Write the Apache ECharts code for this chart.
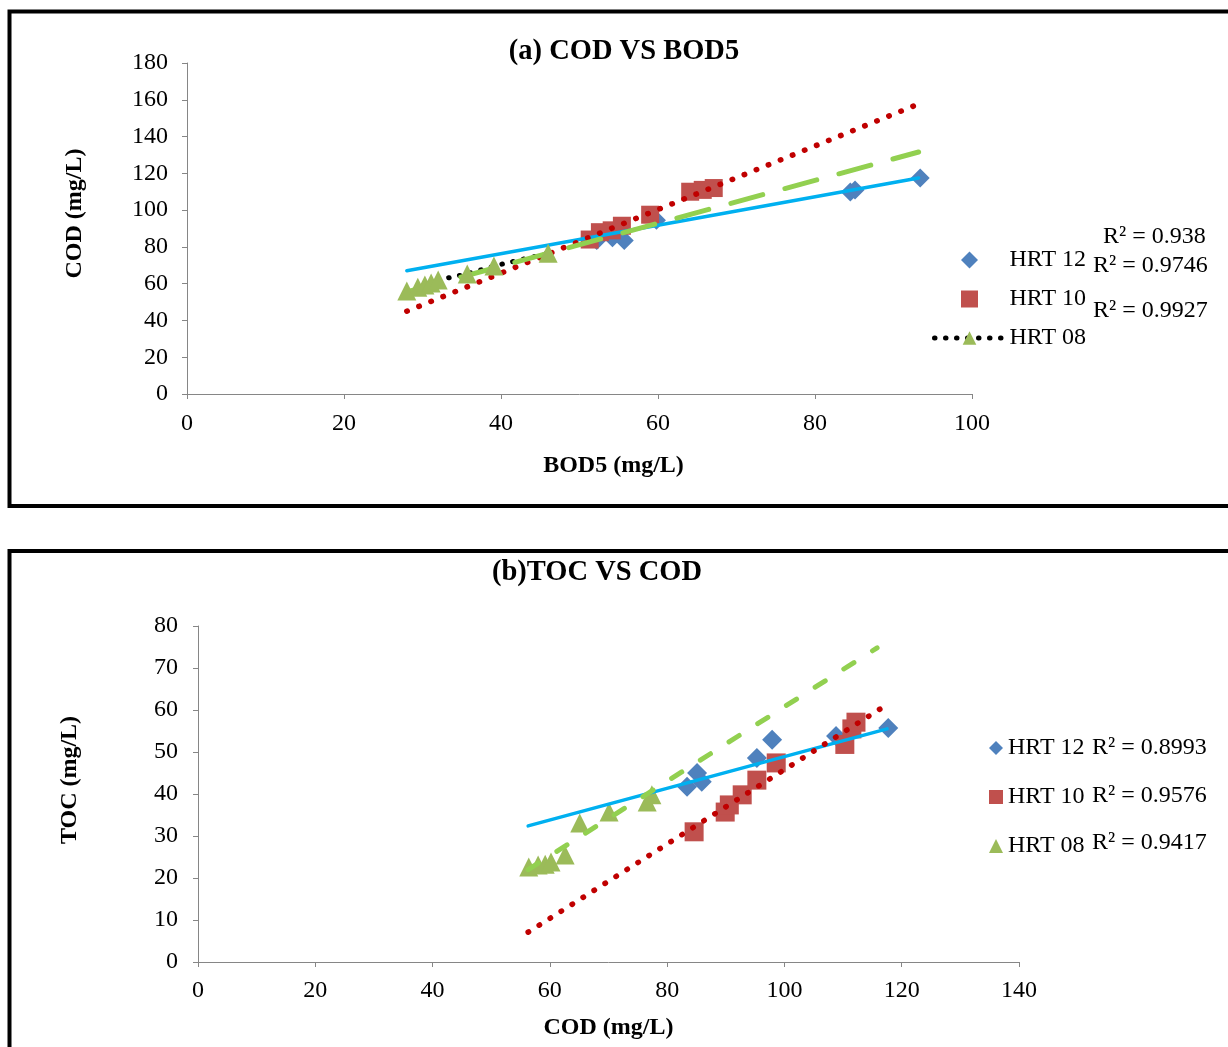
<!DOCTYPE html>
<html>
<head>
<meta charset="utf-8">
<title>COD VS BOD5 / TOC VS COD</title>
<script src="https://cdn.jsdelivr.net/npm/echarts@6/dist/echarts.min.js"></script>
<style>
html, body { margin: 0; padding: 0; background: #fff; }
#chart { width: 1228px; height: 1047px; }
</style>
</head>
<body>
<div id="chart"></div>
<script>
// (a) COD vs BOD5 : [BOD5, COD]
const hrt12A = [[52.2, 83.5], [54.2, 85], [55.7, 83.5], [59.8, 94.5], [84.5, 109.8], [85.1, 110.9], [93.4, 117.5]];
const hrt10A = [[51.3, 84], [52.6, 88], [54.1, 89], [55.4, 91.5], [59, 97.5], [64.1, 110], [65.7, 111], [67.1, 112]];
const hrt08A = [[28, 56], [29.4, 58], [30.3, 59.3], [31.1, 60.4], [32, 62], [35.7, 65.3], [39.1, 69.6], [46, 76.5]];
// trendline ends as drawn
const trend12A = [[28, 67], [93.2, 117.5]];
const trend10A = [[28, 45], [93.2, 157.7]];
const trend08A = [[28, 55.5], [93.2, 131.6]];
const r2A = ['R² = 0.938', 'R² = 0.9746', 'R² = 0.9927'];

// (b) TOC vs COD : [COD, TOC]
const hrt12B = [[83.4, 41.7], [85.1, 45], [85.9, 42.9], [95.3, 48.6], [97.9, 52.9], [108.8, 53.8], [117.7, 55.7]];
const hrt10B = [[84.6, 31], [89.9, 35.7], [90.6, 37.4], [92.8, 39.8], [95.3, 43.3], [98.6, 47.4], [110.3, 51.8], [111.5, 55.5], [112.2, 57.1]];
const hrt08B = [[56.4, 22.6], [58, 23.1], [59.2, 23.3], [60.2, 23.8], [62.6, 25.5], [65.1, 33.1], [70.1, 35.7], [76.6, 38.1], [77.4, 39.8]];
const trend12B = [[56.3, 32.4], [117.5, 55.5]];
const trend10B = [[56.3, 7.1], [116.6, 60.5]];
const trend08B = [[56.3, 22], [115.8, 74.8]];
const r2B = ['R² = 0.8993', 'R² = 0.9576', 'R² = 0.9417'];

const names = ['HRT 12', 'HRT 10', 'HRT 08'];

const serif = '"Liberation Serif", "Times New Roman", serif';
const blue = '#4F81BD', red = '#C0504D', green = '#9BBB59';
const diamondIcon = 'path://M0,-10L10,0L0,10L-10,0Z';
const squareIcon = 'path://M0,0H10V10H0Z';

function axis(extra) {
  return Object.assign({
    type: 'value',
    nameLocation: 'middle',
    axisLine: { show: true, lineStyle: { color: '#868686', width: 1 } },
    axisTick: { show: true, length: 5, lineStyle: { color: '#868686' } },
    splitLine: { show: false }
  }, extra);
}
function label(margin) {
  return { fontFamily: serif, fontSize: 24, color: '#000', margin: margin };
}
function nameStyle(pad) {
  return { fontFamily: serif, fontSize: 24, fontWeight: 'bold', color: '#000', padding: [0, 0, 0, pad] };
}
function r2Text(text, x, y) {
  return { type: 'text', x: x, y: y, style: { text: text, fontFamily: serif, fontSize: 24, fill: '#000', verticalAlign: 'middle' } };
}
function trend(data, idx, color, width, dash) {
  return {
    type: 'line', xAxisIndex: idx, yAxisIndex: idx, data: data,
    showSymbol: false, silent: true, z: 3,
    lineStyle: { color: color, width: width, type: dash, cap: 'round' }
  };
}

let myChart = echarts.init(document.getElementById('chart'));
myChart.setOption({
  backgroundColor: '#fff',
  animation: false,
  title: [
    { text: '(a) COD VS BOD5', left: 619, top: 32, textAlign: 'center',
      textStyle: { fontFamily: serif, fontSize: 28.5, fontWeight: 'bold', color: '#000' } },
    { text: '(b)TOC VS COD', left: 592, top: 553, textAlign: 'center',
      textStyle: { fontFamily: serif, fontSize: 28.5, fontWeight: 'bold', color: '#000' } }
  ],
  grid: [
    { left: 187, top: 63, width: 785, height: 331 },
    { left: 198, top: 626, width: 821, height: 336 }
  ],
  xAxis: [
    axis({ gridIndex: 0, min: 0, max: 100, interval: 20, name: 'BOD5 (mg/L)', nameGap: 60,
      nameTextStyle: nameStyle(68), axisLabel: label(18) }),
    axis({ gridIndex: 1, min: 0, max: 140, interval: 20, name: 'COD (mg/L)', nameGap: 54,
      nameTextStyle: nameStyle(0), axisLabel: label(17) })
  ],
  yAxis: [
    axis({ gridIndex: 0, min: 0, max: 180, interval: 20, name: 'COD (mg/L)', nameGap: 100,
      nameTextStyle: nameStyle(30), axisLabel: label(19) }),
    axis({ gridIndex: 1, min: 0, max: 80, interval: 10, name: 'TOC (mg/L)', nameGap: 116,
      nameTextStyle: nameStyle(28), axisLabel: label(20) })
  ],
  legend: [
    { orient: 'vertical', left: 932, top: 248, padding: 0, itemWidth: 70, itemHeight: 17, itemGap: 15,
      data: [{ name: names[0], icon: diamondIcon }, { name: names[1], icon: squareIcon }, names[2]],
      lineStyle: { width: 5 },
      textStyle: { fontFamily: serif, fontSize: 24, color: '#000' } },
    { orient: 'vertical', left: 989, top: 736, padding: 0, itemWidth: 14, itemHeight: 14, itemGap: 25,
      data: [{ name: names[0] + ' ', icon: diamondIcon }, { name: names[1] + ' ', icon: squareIcon }, { name: names[2] + ' ', icon: 'triangle' }],
      formatter: n => n.trim(),
      textStyle: { fontFamily: serif, fontSize: 24, color: '#000' } }
  ],
  graphic: [
    { type: 'rect', shape: { x: 9.5, y: 11.5, width: 1240, height: 494.5 }, style: { fill: 'none', stroke: '#000', lineWidth: 4 } },
    { type: 'rect', shape: { x: 9.5, y: 551, width: 1240, height: 520 }, style: { fill: 'none', stroke: '#000', lineWidth: 4 } },
    r2Text(r2A[0], 1103, 237),
    r2Text(r2A[1], 1093, 266),
    r2Text(r2A[2], 1093, 311),
    r2Text(r2B[0], 1092, 748),
    r2Text(r2B[1], 1092, 796),
    r2Text(r2B[2], 1092, 843)
  ],
  series: [
    // chart (a)
    { name: names[0], type: 'scatter', xAxisIndex: 0, yAxisIndex: 0, data: hrt12A,
      symbol: 'diamond', symbolSize: 19, itemStyle: { color: blue, opacity: 1 } },
    { name: names[1], type: 'scatter', xAxisIndex: 0, yAxisIndex: 0, data: hrt10A,
      symbol: 'rect', symbolSize: 18, itemStyle: { color: red, opacity: 1 } },
    { name: names[2], type: 'line', xAxisIndex: 0, yAxisIndex: 0, data: hrt08A,
      symbol: 'triangle', symbolSize: 19, showAllSymbol: true,
      itemStyle: { color: green, opacity: 1 },
      lineStyle: { color: '#000', width: 5, type: [0.5, 10.5], cap: 'round' } },
    trend(trend12A, 0, '#00B0F0', 3.5, 'solid'),
    trend(trend10A, 0, '#C00000', 5.5, [0.5, 12.5]),
    trend(trend08A, 0, '#92D050', 5, [33, 23]),
    // chart (b)
    { name: names[0] + ' ', type: 'scatter', xAxisIndex: 1, yAxisIndex: 1, data: hrt12B,
      symbol: 'diamond', symbolSize: 20, itemStyle: { color: blue, opacity: 1 } },
    { name: names[1] + ' ', type: 'scatter', xAxisIndex: 1, yAxisIndex: 1, data: hrt10B,
      symbol: 'rect', symbolSize: 19, itemStyle: { color: red, opacity: 1 } },
    { name: names[2] + ' ', type: 'scatter', xAxisIndex: 1, yAxisIndex: 1, data: hrt08B,
      symbol: 'triangle', symbolSize: 19, itemStyle: { color: green, opacity: 1 } },
    trend(trend12B, 1, '#00B0F0', 3.5, 'solid'),
    trend(trend10B, 1, '#C00000', 5.5, [0.5, 12.5]),
    trend(trend08B, 1, '#92D050', 5, [12, 22])
  ]
});
</script>
</body>
</html>
